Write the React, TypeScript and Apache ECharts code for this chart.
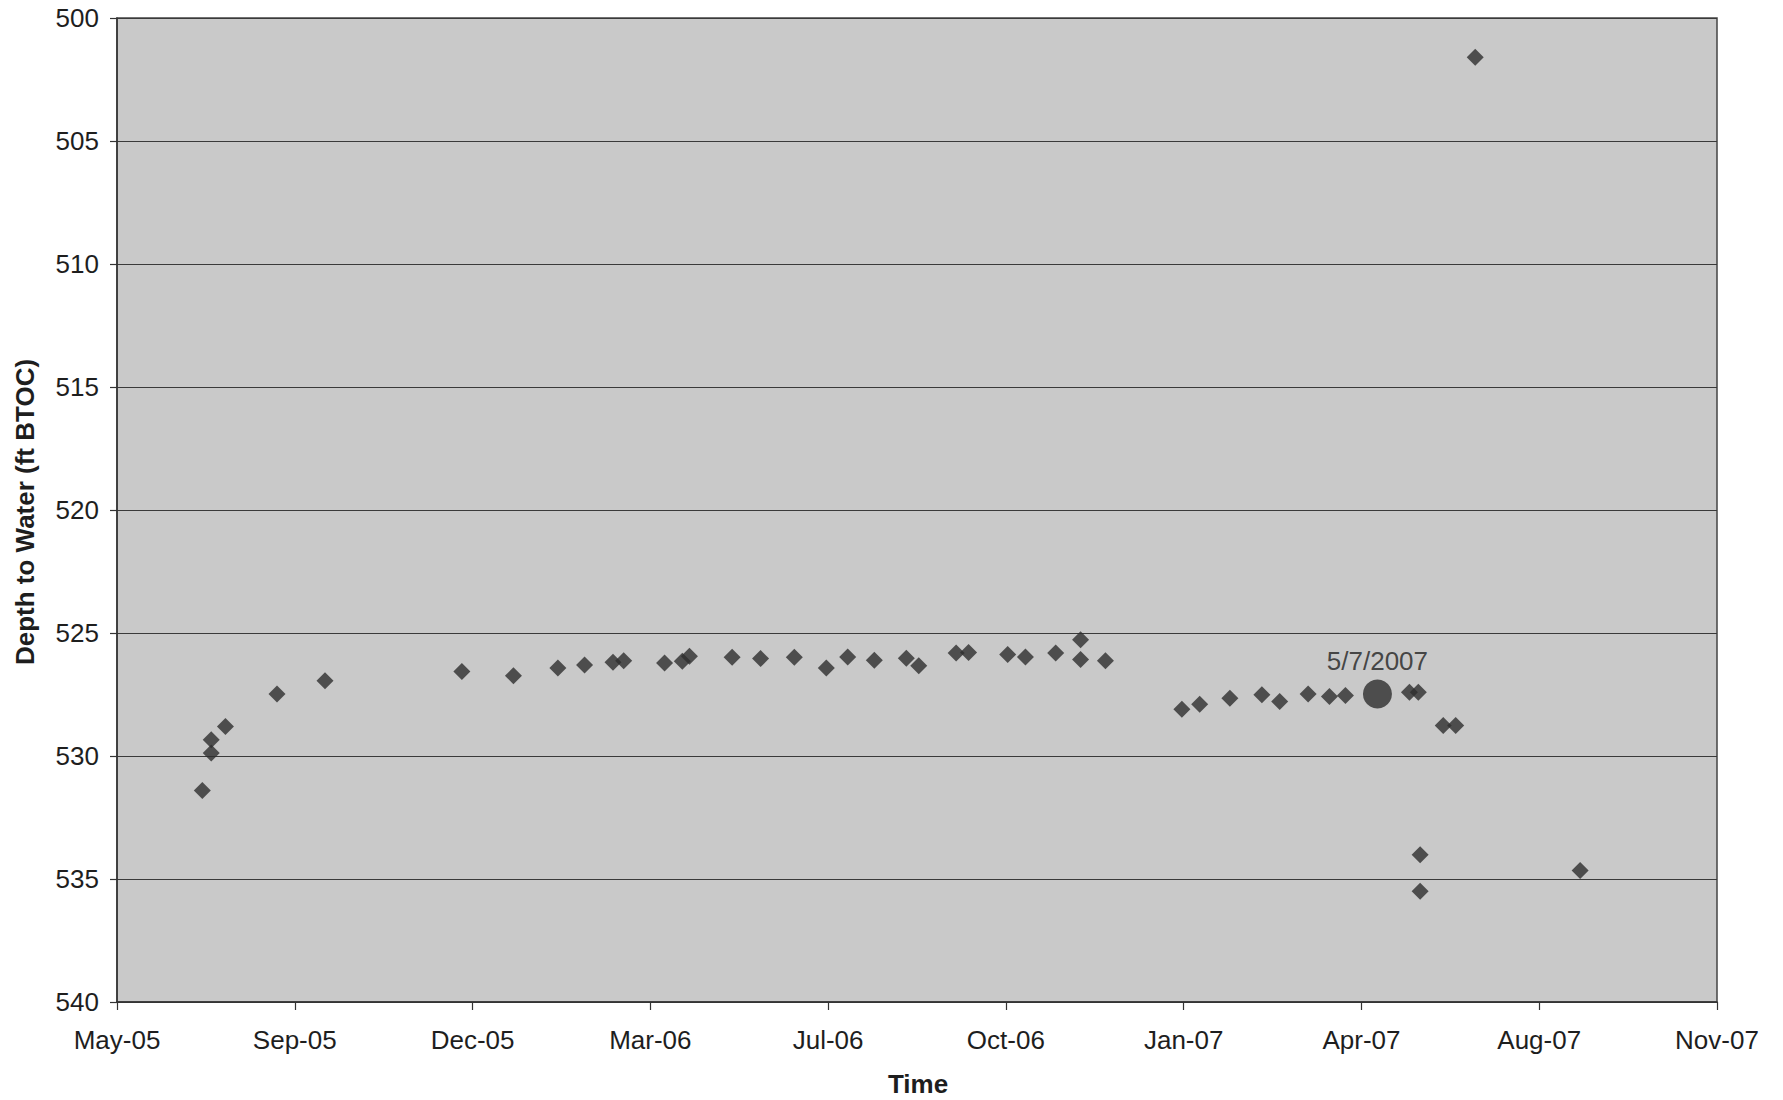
import React, { useEffect, useRef } from "react";
import * as echarts from "echarts";

// Sample dates (YYYY-MM-DD) and depth to water (ft BTOC)
const sampleDates = [
  "2005-07-15", "2005-07-20", "2005-07-20", "2005-07-28", "2005-08-26", "2005-09-22",
  "2005-12-08", "2006-01-06", "2006-01-31", "2006-02-15", "2006-03-03", "2006-03-09",
  "2006-04-01", "2006-04-11", "2006-04-15", "2006-05-09", "2006-05-25", "2006-06-13",
  "2006-07-01", "2006-07-13", "2006-07-28", "2006-08-15", "2006-08-22", "2006-09-12",
  "2006-09-19", "2006-10-11", "2006-10-21", "2006-11-07", "2006-11-21", "2006-11-21",
  "2006-12-05", "2007-01-17", "2007-01-27", "2007-02-13", "2007-03-03", "2007-03-13",
  "2007-03-29", "2007-04-10", "2007-04-19", "2007-05-25", "2007-05-30", "2007-05-31",
  "2007-05-31", "2007-06-13", "2007-06-20", "2007-07-01", "2007-08-29",
];
const depthValues = [
  531.4, 529.88, 529.34, 528.8, 527.48, 526.94,
  526.56, 526.74, 526.42, 526.3, 526.19, 526.13,
  526.22, 526.15, 525.95, 525.99, 526.04, 525.99,
  526.42, 525.98, 526.11, 526.03, 526.33, 525.81,
  525.79, 525.87, 525.98, 525.81, 525.27, 526.08,
  526.13, 528.1, 527.9, 527.65, 527.51, 527.78,
  527.48, 527.58, 527.54, 527.41, 527.41, 534.01,
  535.5, 528.76, 528.76, 501.6, 534.65,
];
const highlightDates = ["2007-05-07"];
const highlightValues = [527.48];
const highlightLabels = ["5/7/2007"];

// Axis settings (Excel date serials)
const xMinSerial = 38500; // 28 May 2005
const xMaxSerial = 39400; // 13 Nov 2007
const xStepDays = 100;
const yMin = 500;
const yMax = 540;
const yStep = 5;
const monthNames = ["Jan", "Feb", "Mar", "Apr", "May", "Jun", "Jul", "Aug", "Sep", "Oct", "Nov", "Dec"];

const EXCEL_EPOCH = Date.UTC(1899, 11, 30);
function toSerial(s: string): number {
  const [y, m, d] = s.split("-").map(Number);
  return (Date.UTC(y, m - 1, d) - EXCEL_EPOCH) / 86400000;
}
function serialLabel(v: number): string {
  const dt = new Date(EXCEL_EPOCH + Math.round(v) * 86400000);
  const yy = String(dt.getUTCFullYear() % 100).padStart(2, "0");
  return monthNames[dt.getUTCMonth()] + "-" + yy;
}

const FONT = "'Liberation Sans', Arial, Helvetica, sans-serif";

export default function App() {
  const ref = useRef<HTMLDivElement>(null);
  useEffect(() => {
    document.body.style.margin = "0";
    if (!ref.current) return;
    const chart = echarts.init(ref.current, undefined, { renderer: "svg" });
    const mainData = sampleDates.map((d, i) => [toSerial(d), depthValues[i]]);
    const hiData = highlightDates.map((d, i) => ({
      value: [toSerial(d), highlightValues[i]],
      label: { formatter: highlightLabels[i] },
    }));
    chart.setOption({
      animation: false,
      backgroundColor: "#ffffff",
      textStyle: { fontFamily: FONT },
      grid: {
        left: 117,
        top: 18,
        width: 1600,
        height: 984,
        show: true,
        backgroundColor: "#c9c9c9",
        borderColor: "#444444",
        borderWidth: 1.5,
      },
      xAxis: {
        type: "value",
        min: xMinSerial,
        max: xMaxSerial,
        interval: xStepDays,
        axisLine: { show: true, onZero: false, lineStyle: { color: "#333333", width: 1.5 } },
        axisTick: { show: true, inside: false, length: 8, lineStyle: { color: "#333333", width: 1.2 } },
        splitLine: { show: false },
        axisLabel: {
          formatter: (v: number) => serialLabel(v),
          fontSize: 26,
          color: "#1e1e1e",
          margin: 25,
          fontFamily: FONT,
          showMinLabel: true,
          showMaxLabel: true,
        },
      },
      yAxis: {
        type: "value",
        inverse: true,
        min: yMin,
        max: yMax,
        interval: yStep,
        axisLine: { show: true, lineStyle: { color: "#333333", width: 1.5 } },
        axisTick: { show: true, inside: false, length: 7, lineStyle: { color: "#333333", width: 1.2 } },
        splitLine: { show: true, lineStyle: { color: "#3a3a3a", width: 1.2 } },
        axisLabel: { fontSize: 26, color: "#1e1e1e", margin: 18, fontFamily: FONT },
      },
      graphic: [
        {
          type: "text",
          x: 25,
          y: 512,
          rotation: Math.PI / 2,
          style: {
            text: "Depth to Water (ft BTOC)",
            fontSize: 26,
            fontWeight: "bold",
            fill: "#1e1e1e",
            fontFamily: FONT,
            align: "center",
            verticalAlign: "middle",
          },
        },
        {
          type: "text",
          x: 918,
          y: 1084,
          style: {
            text: "Time",
            fontSize: 26,
            fontWeight: "bold",
            fill: "#1e1e1e",
            fontFamily: FONT,
            align: "center",
            verticalAlign: "middle",
          },
        },
      ],
      series: [
        {
          type: "scatter",
          name: "Depth to Water",
          data: mainData,
          symbol: "diamond",
          symbolSize: 17,
          itemStyle: { color: "#2e2e2e" },
          z: 3,
        },
        {
          type: "scatter",
          name: "Highlight",
          data: hiData,
          symbol: "circle",
          symbolSize: 29,
          itemStyle: { color: "#2e2e2e" },
          label: {
            show: true,
            position: "top",
            distance: 6,
            fontSize: 26,
            color: "#222222",
            fontFamily: FONT,
          },
          z: 4,
        },
      ],
    });
    return () => chart.dispose();
  }, []);
  return <div ref={ref} style={{ width: 1783, height: 1100 }} />;
}
